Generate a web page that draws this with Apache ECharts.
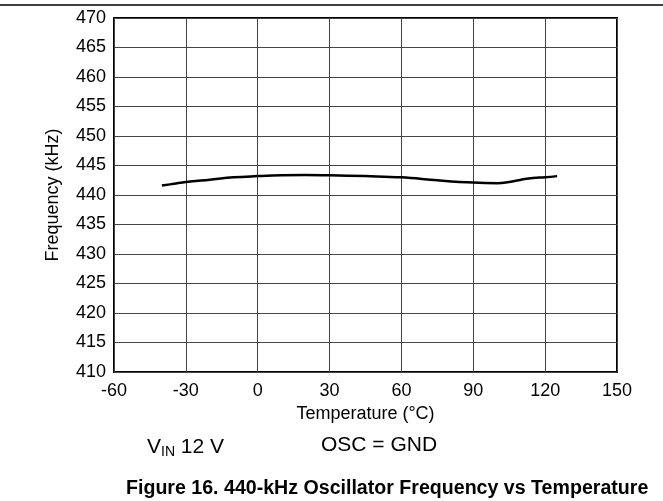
<!DOCTYPE html>
<html>
<head>
<meta charset="utf-8">
<script src="https://cdn.jsdelivr.net/npm/echarts@6/dist/echarts.min.js"></script>
<style>
  html, body { margin: 0; padding: 0; background: #fff; }
  #chart { width: 663px; height: 501px; }
</style>
</head>
<body>
<div id="chart"></div>
<script>
// temperature (°C) and oscillator frequency (kHz)
const temps = [-40, -35, -30, -20, -10, 0, 10, 20, 30, 45, 60, 75, 90, 100, 105, 110, 115, 120, 125]
const freqs = [441.6, 441.9, 442.2, 442.6, 443.0, 443.2, 443.35, 443.4, 443.35, 443.2, 443.0, 442.5, 442.1, 442.0, 442.2, 442.6, 442.9, 443.0, 443.2]

const xTicks = [-60, -30, 0, 30, 60, 90, 120, 150]
const yTicks = [410, 415, 420, 425, 430, 435, 440, 445, 450, 455, 460, 465, 470]

const font = 'Liberation Sans, Arial, sans-serif'

const chart = echarts.init(document.getElementById('chart'))

const option = {
  animation: false,
  backgroundColor: '#fff',
  grid: {
    left: 114,
    right: 46,
    top: 18,
    bottom: 129,
    show: true,
    borderColor: '#000',
    borderWidth: 2,
  },
  xAxis: {
    type: 'value',
    min: xTicks[0],
    max: xTicks[xTicks.length - 1],
    interval: 30,
    name: 'Temperature (°C)',
    nameLocation: 'middle',
    nameGap: 27,
    nameTextStyle: { fontFamily: font, fontSize: 18, color: '#000' },
    axisLine: { show: false },
    axisTick: { show: false },
    axisLabel: { fontFamily: font, fontSize: 18, color: '#000', margin: 10 },
    splitLine: { show: true, lineStyle: { color: '#444', width: 1 } },
  },
  yAxis: {
    type: 'value',
    min: yTicks[0],
    max: yTicks[yTicks.length - 1],
    interval: 5,
    name: 'Frequency (kHz)',
    nameLocation: 'middle',
    nameGap: 52,
    nameTextStyle: { fontFamily: font, fontSize: 18, color: '#000' },
    axisLine: { show: false },
    axisTick: { show: false },
    axisLabel: { fontFamily: font, fontSize: 18, color: '#000', margin: 8 },
    splitLine: { show: true, lineStyle: { color: '#444', width: 1 } },
  },
  series: [
    {
      type: 'line',
      data: temps.map((t, i) => [t, freqs[i]]),
      smooth: 0.4,
      showSymbol: false,
      lineStyle: { color: '#000', width: 2.5 },
    },
  ],
  title: [
    {
      text: '{v|V}{sub|IN}{v| 12 V}',
      left: 142,
      top: 430,
      textStyle: {
        rich: {
          v: { fontFamily: font, fontSize: 21, fontWeight: 'normal', color: '#000' },
          sub: { fontFamily: font, fontSize: 14, fontWeight: 'normal', color: '#000', verticalAlign: 'bottom', padding: [10, 0, 0, 0] },
        },
      },
    },
    {
      text: 'OSC = GND',
      left: 316,
      top: 430,
      textStyle: { fontFamily: font, fontSize: 21, fontWeight: 'normal', color: '#000' },
    },
    {
      text: 'Figure 16. 440-kHz Oscillator Frequency vs Temperature',
      left: 121,
      top: 474,
      textStyle: { fontFamily: font, fontSize: 19.6, fontWeight: 'bold', color: '#000' },
    },
  ],
  graphic: [
    {
      type: 'line',
      shape: { x1: 0, y1: 5, x2: 663, y2: 5 },
      style: { stroke: '#000', lineWidth: 1.5 },
    },
  ],
}

option && chart.setOption(option)
</script>
</body>
</html>
